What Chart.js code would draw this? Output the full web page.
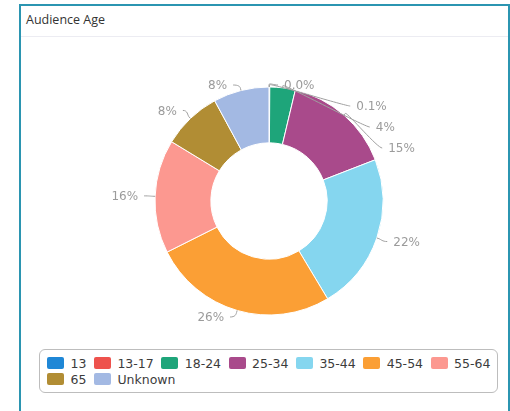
<!DOCTYPE html>
<html>
<head>
<meta charset="utf-8">
<script src="https://cdn.jsdelivr.net/npm/chart.js@4/dist/chart.umd.min.js"></script>
<style>
  body { margin: 0; width: 510px; height: 411px; overflow: hidden; background: #fff; position: relative; }
  .card {
    position: absolute; left: 19px; top: 4px; width: 491px; height: 420px;
    box-sizing: border-box; border: 2px solid #2b95b1; background: #fff;
  }
  .card-head {
    box-sizing: border-box; height: 31px; line-height: 30px; padding: 5px 0 0 5px;
    font: 12.5px "Open Sans", sans-serif; color: #333;
    border-bottom: 1px solid #ececf2;
  }
  #ageChart { position: absolute; left: 22px; top: 40px; }
  #ageLegend {
    position: absolute; left: 39px; top: 349px; width: 459px; height: 44px;
    box-sizing: border-box; border: 1px solid #bdbdbd; border-radius: 6px;
    padding: 5px 0 0 7px;
    display: flex; flex-wrap: wrap; column-gap: 7.5px; align-content: flex-start;
    font: 12.5px "DejaVu Sans", Verdana, sans-serif; color: #3c3c3c;
  }
  #ageLegend .item { display: flex; align-items: center; height: 16px; white-space: nowrap; }
  #ageLegend .swatch { width: 17px; height: 12px; border-radius: 2px; margin-right: 6.5px; }
</style>
</head>
<body>
<div class="card">
  <div class="card-head">Audience Age</div>
</div>
<canvas id="ageChart" width="486" height="306"></canvas>
<div id="ageLegend"></div>

<script>
// ---------- DATA ----------
const ageGroups = ["13", "13-17", "18-24", "25-34", "35-44", "45-54", "55-64", "65", "Unknown"];
const audienceShare = [0.01, 0.1, 3.6, 15.4, 22.3, 26.2, 16.1, 8.4, 7.9];
const shareLabels = ["0.0%", "0.1%", "4%", "15%", "22%", "26%", "16%", "8%", "8%"];
const sliceColors = ["#1f87d6", "#ee524d", "#1ea57a", "#a94a8b", "#85d6ef", "#fb9f35", "#fc9890", "#b18d34", "#a3b9e3"];

// ---------- OUTSIDE LABELS WITH CONNECTORS ----------
const outsideLabels = {
  id: "outsideLabels",
  afterDatasetsDraw(chart) {
    const ctx = chart.ctx;
    const arcs = chart.getDatasetMeta(0).data;
    const dist = 11;   // label distance from outer edge
    const gap = 21;    // min vertical spacing between labels

    const items = arcs.map((arc, i) => {
      const mid = (arc.startAngle + arc.endAngle) / 2;
      const r = arc.outerRadius;
      const rl = r + dist;
      return {
        i, cx: arc.x, cy: arc.y, rl,
        left: Math.cos(mid) < -1e-9,
        touch: { x: arc.x + Math.cos(mid) * r, y: arc.y + Math.sin(mid) * r },
        brk: { x: arc.x + Math.cos(mid) * (r + dist / 5), y: arc.y + Math.sin(mid) * (r + dist / 5) },
        x: arc.x + Math.cos(mid) * rl,
        y: arc.y + Math.sin(mid) * rl,
      };
    });
    if (!items.length) return;

    const cy = items[0].cy, rl = items[0].rl;
    const yMin = cy - rl + 9, yMax = cy + rl - 9;

    [false, true].forEach((side) => {
      const group = items.filter((d) => d.left === side).sort((a, b) => a.y - b.y);
      group.forEach((d) => { d.y0 = Math.min(Math.max(d.y, yMin), yMax); d.ly = d.y0; });
      for (let k = 1; k < group.length; k++) group[k].ly = Math.max(group[k].ly, group[k - 1].ly + gap);
      if (group.length) group[group.length - 1].ly = Math.min(group[group.length - 1].ly, yMax);
      for (let k = group.length - 2; k >= 0; k--) group[k].ly = Math.min(group[k].ly, group[k + 1].ly - gap);
      group.forEach((d) => {
        const out = d.left ? -1 : 1;
        if (Math.abs(d.ly - d.y0) > 0.5) {
          const dy = d.ly - d.cy;
          d.lx = d.cx + out * Math.sqrt(Math.max(d.rl * d.rl - dy * dy, 0));
        } else {
          // clamped at top/bottom: slide outward by the clamp amount
          d.lx = d.x + out * Math.abs(d.y0 - d.y);
        }
      });
    });

    ctx.save();
    ctx.lineWidth = 1;
    ctx.strokeStyle = "#a0a0a0";
    ctx.fillStyle = "#9b9b9b";
    ctx.font = '12px "DejaVu Sans", Verdana, sans-serif';
    ctx.textBaseline = "middle";
    items.forEach((d) => {
      const dir = d.left ? 1 : -1;
      ctx.beginPath();
      ctx.moveTo(d.lx, d.ly);
      ctx.bezierCurveTo(d.lx + dir * 5, d.ly, 2 * d.brk.x - d.touch.x, 2 * d.brk.y - d.touch.y, d.brk.x, d.brk.y);
      ctx.lineTo(d.touch.x, d.touch.y);
      ctx.stroke();
      ctx.textAlign = d.left ? "right" : "left";
      ctx.fillText(shareLabels[d.i], d.lx - dir * 6, d.ly + 1);
    });
    ctx.restore();
  },
};

// ---------- CHART ----------
const chart = new Chart(document.getElementById("ageChart"), {
  type: "doughnut",
  data: {
    labels: ageGroups,
    datasets: [
      {
        data: audienceShare,
        backgroundColor: sliceColors,
        borderColor: "#fff",
        borderWidth: 1,
        radius: 114,
        cutout: "51%",
      },
    ],
  },
  options: {
    responsive: false,
    animation: false,
    layout: { padding: { left: 8, right: 0, top: 16, bottom: 0 } },
    plugins: {
      legend: { display: false },
      tooltip: { enabled: false },
    },
  },
  plugins: [outsideLabels],
});

// ---------- HTML LEGEND ----------
const legendBox = document.getElementById("ageLegend");
Chart.overrides.doughnut.plugins.legend.labels.generateLabels(chart).forEach((item) => {
  const el = document.createElement("div");
  el.className = "item";
  const sw = document.createElement("span");
  sw.className = "swatch";
  sw.style.background = item.fillStyle;
  el.appendChild(sw);
  el.appendChild(document.createTextNode(item.text));
  legendBox.appendChild(el);
});
</script>
</body>
</html>
